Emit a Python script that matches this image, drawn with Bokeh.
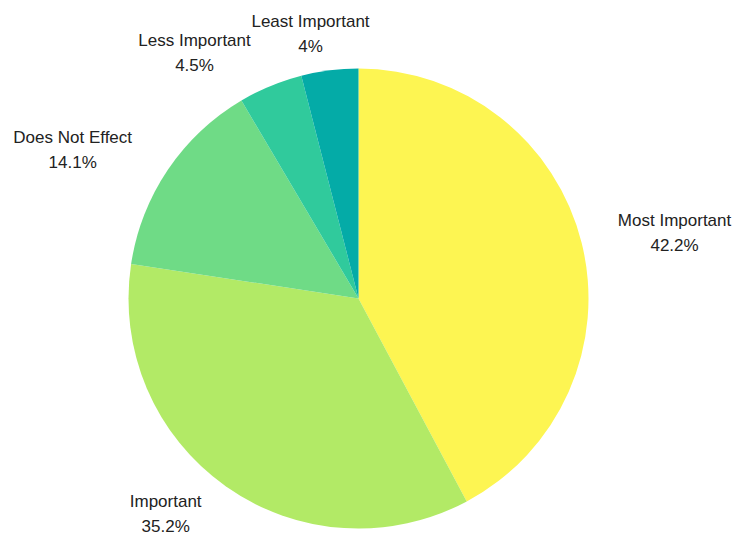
import math
from bokeh.plotting import figure
from bokeh.models import ColumnDataSource, Range1d
from bokeh.core.properties import value
from bokeh.embed import file_html
from bokeh.resources import INLINE

# ---- data ----
categories = ["Most Important", "Important", "Does Not Effect", "Less Important", "Least Important"]
percentages = [42.2, 35.2, 14.1, 4.5, 4.0]
pct_labels = ["42.2%", "35.2%", "14.1%", "4.5%", "4%"]
colors = ["#FDF552", "#B2EA66", "#6FDB86", "#30CA9C", "#04ABA7"]

# label placement (layout only): angle nudge in degrees, radial distance factor
label_angle_nudge = [-2.4, -6.6, 6.6, 11.2, 3.1]
label_dist_factor = [1.403, 1.256, 1.40, 1.285, 1.167]

W, H = 738, 536
CX, CY, R = 358, 238, 230

total = sum(percentages)
starts, ends, mids = [], [], []
cum = 0.0
for v in percentages:
    a0 = math.pi / 2 - 2 * math.pi * cum / total
    cum += v
    a1 = math.pi / 2 - 2 * math.pi * cum / total
    starts.append(a0)
    ends.append(a1)
    mids.append((a0 + a1) / 2)

src = ColumnDataSource(dict(cat=categories, start=starts, end=ends, color=colors,
                            x=[CX] * len(categories), y=[CY] * len(categories)))

p = figure(width=W, height=H, output_backend="svg", toolbar_location=None,
           x_range=Range1d(0, W), y_range=Range1d(0, H), min_border=0)
p.axis.visible = False
p.grid.visible = False
p.outline_line_color = None
p.background_fill_color = "white"

p.wedge(x="x", y="y", radius=R, start_angle="start", end_angle="end",
        direction="clock", fill_color="color", line_color=None, source=src)

lx, ly = [], []
for m, nud, f in zip(mids, label_angle_nudge, label_dist_factor):
    a = m + math.radians(nud)
    lx.append(CX + R * f * math.cos(a))
    ly.append(CY + R * f * math.sin(a))

lsrc = ColumnDataSource(dict(x=lx, y=ly, name=categories, pct=pct_labels))
common = dict(text_font=value("Liberation Sans"), text_font_size="17px",
              text_color="#222222", text_align="center", text_baseline="middle")
p.text(x="x", y="y", text="name", y_offset=-12.5, source=lsrc, **common)
p.text(x="x", y="y", text="pct", y_offset=12.5, source=lsrc, **common)

open("out.html", "w").write(file_html(p, INLINE))
